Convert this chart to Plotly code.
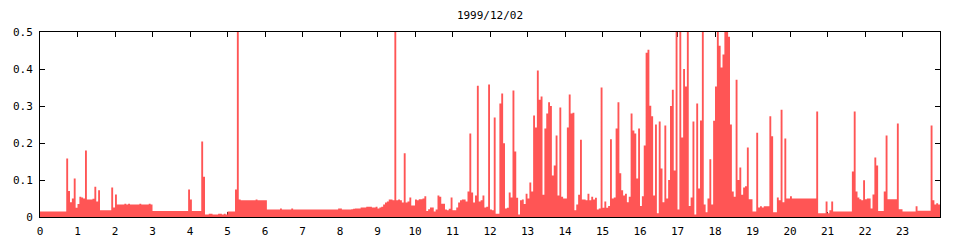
import numpy as np
import plotly.graph_objects as go

# 3-minute bins (20 per hour)
h00 = [0.015, 0.015, 0.015, 0.015, 0.015, 0.015, 0.015, 0.015, 0.015, 0.015, 0.015, 0.015, 0.015, 0.015, 0.158, 0.070, 0.040, 0.050, 0.104, 0.025]
h01 = [0.035, 0.055, 0.053, 0.050, 0.180, 0.047, 0.047, 0.047, 0.049, 0.082, 0.042, 0.072, 0.018, 0.018, 0.018, 0.018, 0.018, 0.018, 0.080, 0.026]
h02 = [0.061, 0.034, 0.034, 0.034, 0.034, 0.036, 0.034, 0.036, 0.034, 0.034, 0.034, 0.034, 0.034, 0.036, 0.034, 0.034, 0.034, 0.034, 0.036, 0.034]
h03 = [0.016, 0.016, 0.016, 0.016, 0.016, 0.016, 0.016, 0.016, 0.016, 0.016, 0.016, 0.016, 0.016, 0.016, 0.016, 0.016, 0.016, 0.016, 0.016, 0.074]
h04 = [0.047, 0.016, 0.016, 0.016, 0.016, 0.016, 0.204, 0.109, 0.007, 0.007, 0.009, 0.009, 0.007, 0.007, 0.007, 0.009, 0.009, 0.007, 0.009, 0.007]
h05 = [0.015, 0.015, 0.015, 0.015, 0.074, 0.500, 0.047, 0.045, 0.045, 0.045, 0.045, 0.045, 0.045, 0.045, 0.045, 0.047, 0.045, 0.045, 0.045, 0.045]
h06 = [0.045, 0.020, 0.020, 0.020, 0.020, 0.020, 0.020, 0.020, 0.023, 0.020, 0.020, 0.020, 0.020, 0.020, 0.023, 0.020, 0.020, 0.020, 0.020, 0.020]
h07 = [0.020, 0.020, 0.020, 0.020, 0.020, 0.020, 0.020, 0.020, 0.020, 0.020, 0.020, 0.020, 0.020, 0.020, 0.020, 0.020, 0.020, 0.020, 0.020, 0.023]
h08 = [0.023, 0.020, 0.020, 0.020, 0.020, 0.020, 0.021, 0.022, 0.023, 0.023, 0.023, 0.026, 0.026, 0.026, 0.028, 0.028, 0.028, 0.026, 0.026, 0.028]
h09 = [0.023, 0.026, 0.028, 0.034, 0.039, 0.042, 0.047, 0.047, 0.045, 0.500, 0.045, 0.047, 0.045, 0.039, 0.172, 0.039, 0.042, 0.053, 0.031, 0.031]
h10 = [0.047, 0.045, 0.048, 0.048, 0.050, 0.056, 0.016, 0.021, 0.026, 0.026, 0.015, 0.020, 0.058, 0.055, 0.036, 0.036, 0.020, 0.018, 0.022, 0.053]
h11 = [0.018, 0.018, 0.026, 0.039, 0.045, 0.047, 0.047, 0.042, 0.069, 0.226, 0.066, 0.039, 0.058, 0.355, 0.042, 0.045, 0.058, 0.026, 0.028, 0.358]
h12 = [0.020, 0.018, 0.269, 0.009, 0.009, 0.307, 0.334, 0.199, 0.023, 0.025, 0.066, 0.053, 0.342, 0.177, 0.052, 0.007, 0.045, 0.047, 0.035, 0.063]
h13 = [0.050, 0.093, 0.069, 0.274, 0.242, 0.396, 0.317, 0.326, 0.060, 0.239, 0.280, 0.310, 0.300, 0.112, 0.139, 0.220, 0.058, 0.296, 0.055, 0.050]
h14 = [0.050, 0.242, 0.331, 0.280, 0.282, 0.018, 0.034, 0.060, 0.209, 0.047, 0.047, 0.045, 0.063, 0.045, 0.055, 0.047, 0.052, 0.020, 0.023, 0.350]
h15 = [0.025, 0.042, 0.025, 0.030, 0.210, 0.050, 0.053, 0.239, 0.310, 0.118, 0.072, 0.058, 0.063, 0.040, 0.055, 0.280, 0.234, 0.226, 0.104, 0.239]
h16 = [0.030, 0.056, 0.193, 0.444, 0.452, 0.301, 0.272, 0.058, 0.250, 0.010, 0.258, 0.131, 0.040, 0.247, 0.050, 0.100, 0.300, 0.344, 0.126, 0.500]
h17 = [0.020, 0.500, 0.215, 0.400, 0.353, 0.500, 0.030, 0.053, 0.258, 0.007, 0.307, 0.077, 0.261, 0.500, 0.034, 0.013, 0.050, 0.156, 0.034, 0.260]
h18 = [0.353, 0.500, 0.463, 0.404, 0.439, 0.500, 0.500, 0.487, 0.250, 0.069, 0.055, 0.371, 0.100, 0.134, 0.060, 0.080, 0.083, 0.188, 0.048, 0.048]
h19 = [0.015, 0.015, 0.228, 0.026, 0.029, 0.026, 0.029, 0.029, 0.029, 0.272, 0.218, 0.013, 0.013, 0.053, 0.045, 0.290, 0.040, 0.212, 0.050, 0.050]
h20 = [0.056, 0.050, 0.050, 0.050, 0.050, 0.050, 0.050, 0.050, 0.050, 0.050, 0.050, 0.050, 0.050, 0.050, 0.285, 0.010, 0.010, 0.010, 0.010, 0.042]
h21 = [0.010, 0.018, 0.042, 0.015, 0.015, 0.015, 0.015, 0.015, 0.015, 0.015, 0.015, 0.015, 0.015, 0.123, 0.285, 0.069, 0.053, 0.048, 0.045, 0.099]
h22 = [0.048, 0.050, 0.050, 0.023, 0.061, 0.161, 0.139, 0.016, 0.016, 0.016, 0.069, 0.220, 0.048, 0.048, 0.048, 0.048, 0.048, 0.253, 0.021, 0.021]
h23 = [0.015, 0.015, 0.015, 0.015, 0.015, 0.015, 0.015, 0.029, 0.017, 0.017, 0.017, 0.017, 0.017, 0.017, 0.017, 0.247, 0.045, 0.034, 0.037, 0.034]

hours = [h00, h01, h02, h03, h04, h05, h06, h07, h08, h09, h10, h11,
         h12, h13, h14, h15, h16, h17, h18, h19, h20, h21, h22, h23]
bin_hours = 0.05
x_tick_vals = list(range(24))
y_tick_vals = [0, 0.1, 0.2, 0.3, 0.4, 0.5]
y_tick_text = ["0", "0.1", "0.2", "0.3", "0.4", "0.5"]
title_text = "1999/12/02"

values = [v for row in hours for v in row]
x = [i * bin_hours for i in range(len(values) + 1)]
y = values + [values[-1]]

RED = "#ff5555"
FONT = dict(family="DejaVu Sans Mono", size=11, color="black")

fig = go.Figure(go.Scatter(
    x=x, y=y, mode="lines", line=dict(shape="hv", width=0, color=RED),
    fill="tozeroy", fillcolor=RED, hoverinfo="skip"))

axis_common = dict(showline=True, linecolor="black", linewidth=1, mirror="ticks",
                   ticks="inside", ticklen=5, tickcolor="black", tickwidth=1,
                   showgrid=False, zeroline=False, layer="below traces",
                   tickfont=FONT)

fig.update_xaxes(range=[0, 24], tickmode="array", tickvals=x_tick_vals,
                 ticklabelstandoff=4, **axis_common)
fig.update_yaxes(range=[0, 0.5], tickmode="array", tickvals=y_tick_vals,
                 ticktext=y_tick_text, ticklabelstandoff=4, **axis_common)

fig.update_layout(
    width=960, height=240,
    margin=dict(l=40, r=20, t=32, b=23, autoexpand=False),
    plot_bgcolor="white", paper_bgcolor="white", showlegend=False,
    title=dict(text=title_text, x=0.5, xref="paper", xanchor="center",
               y=1 - 15.5 / 240, yref="container", yanchor="middle", font=FONT),
    font=FONT,
)

fig.write_html("out.html")
